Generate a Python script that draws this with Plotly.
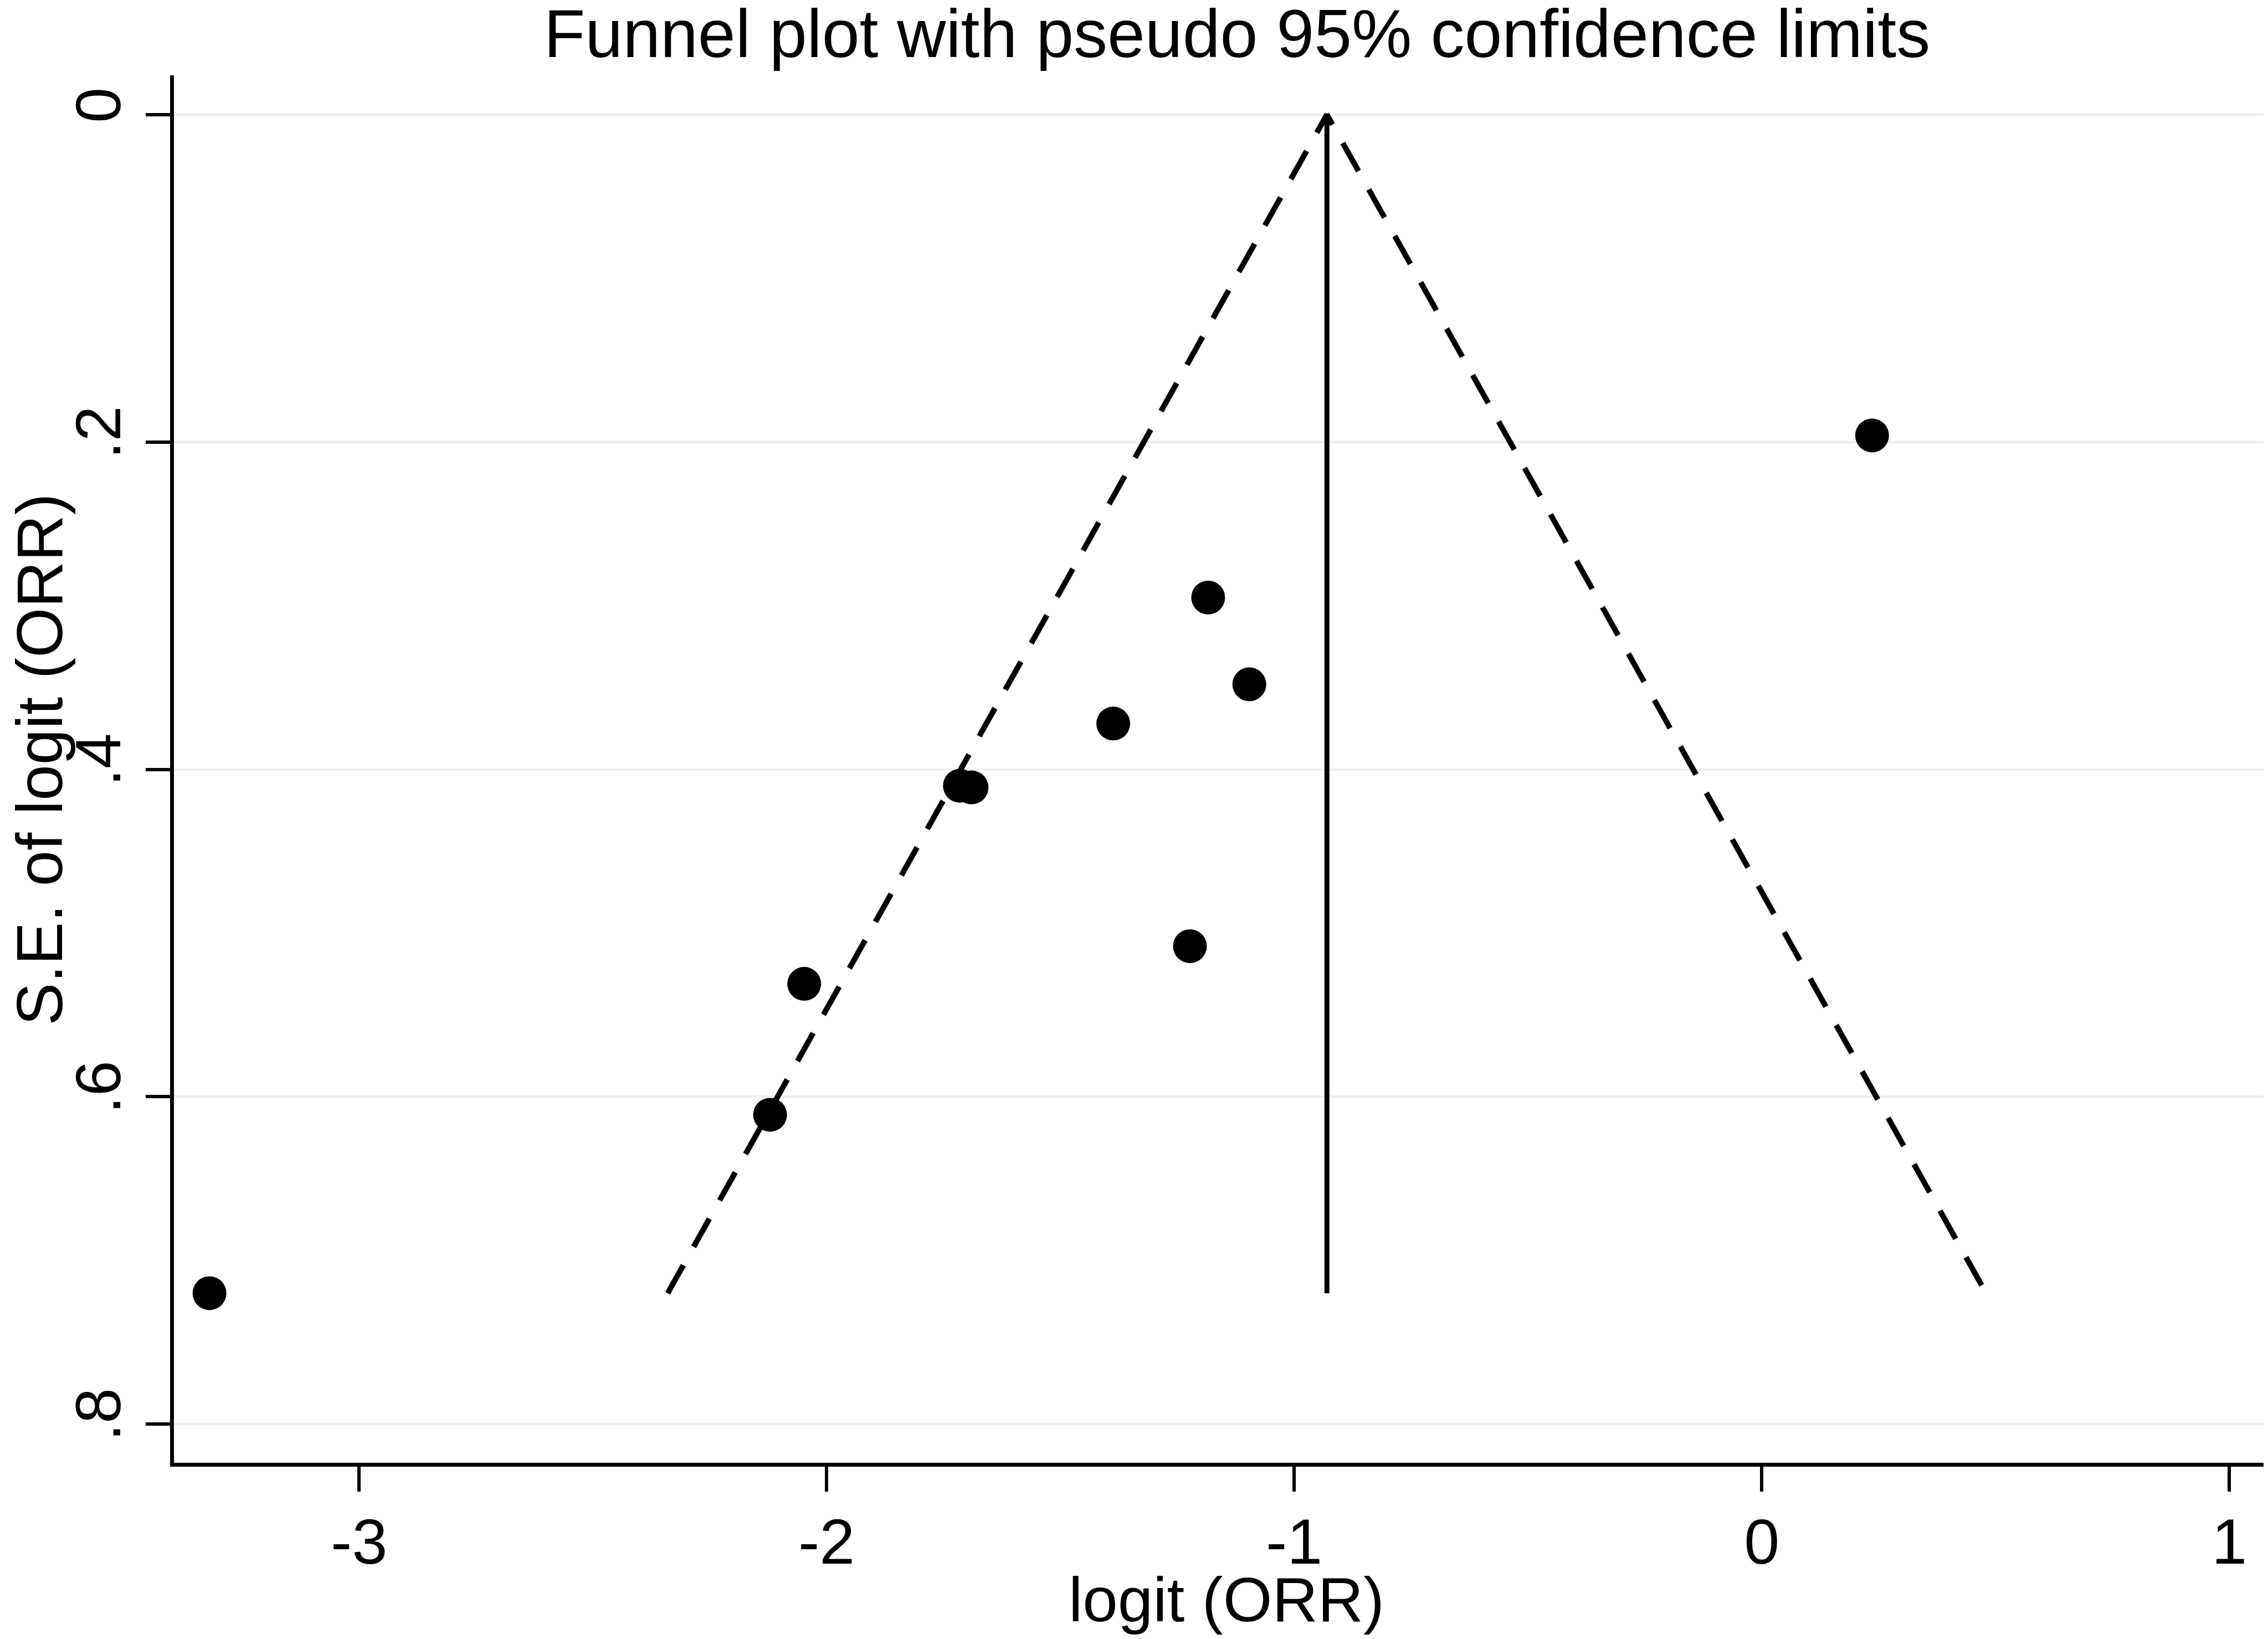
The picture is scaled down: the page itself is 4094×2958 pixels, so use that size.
import plotly.graph_objects as go

# Study estimates
logit_orr = [0.236, -1.184, -1.096, -1.387, -1.715, -1.690, -1.223, -2.048, -2.121, -3.320]
se_logit_orr = [0.196, 0.295, 0.348, 0.372, 0.410, 0.411, 0.508, 0.531, 0.611, 0.720]

# Pooled estimate and pseudo 95% limits
pooled = -0.930
funnel_se = [0.72, 0.0, 0.72]
funnel_x = [-2.34, -0.930, 0.48]

x_ticks = [-3, -2, -1, 0, 1]
x_ticklabels = ["-3", "-2", "-1", "0", "1"]
y_ticks = [0, 0.2, 0.4, 0.6, 0.8]
y_ticklabels = ["0", ".2", ".4", ".6", ".8"]

W, H = 4094, 2958
L, R, T, B = 306, 7, 128, 326
PW, PH = W - L - R, H - T - B
FONT = "Liberation Sans, Arial, sans-serif"

fig = go.Figure()

# dashed confidence limits
fig.add_trace(go.Scatter(
    x=funnel_x, y=funnel_se, mode="lines",
    line=dict(color="black", width=10, dash="58px,38px"),
    showlegend=False, hoverinfo="skip"
))

# pooled estimate line
fig.add_trace(go.Scatter(
    x=[pooled, pooled], y=[funnel_se[0], funnel_se[1]], mode="lines",
    line=dict(color="black", width=9),
    showlegend=False, hoverinfo="skip"
))

# studies
fig.add_trace(go.Scatter(
    x=logit_orr, y=se_logit_orr, mode="markers",
    marker=dict(color="black", size=61),
    showlegend=False
))

fig.update_layout(
    width=W, height=H,
    paper_bgcolor="white", plot_bgcolor="white",
    margin=dict(l=L, r=R, t=T, b=B),
    font=dict(family=FONT, size=115, color="black"),
    title=dict(
        text="Funnel plot with pseudo 95% confidence limits",
        x=2225 / W, xanchor="center", y=1 - 52 / H, yanchor="middle",
        font=dict(family=FONT, size=122, color="black")
    ),
    xaxis=dict(
        range=[-3.396, 1.084],
        tickvals=x_ticks, ticktext=x_ticklabels,
        showline=True, linecolor="black", linewidth=7,
        ticks="outside", ticklen=45, tickwidth=6, tickcolor="black",
        ticklabelstandoff=-8,
        showgrid=False, zeroline=False, automargin=False,
        tickfont=dict(size=115),
    ),
    yaxis=dict(
        range=[0.8236, -0.024],
        tickvals=y_ticks, ticktext=y_ticklabels, tickangle=-90,
        showline=True, linecolor="black", linewidth=7,
        ticks="outside", ticklen=44, tickwidth=6, tickcolor="black",
        showgrid=True, gridcolor="#f0f0f0", gridwidth=4,
        zeroline=False, automargin=False,
        tickfont=dict(size=115),
    ),
)

# axis titles placed as annotations for exact positioning
fig.add_annotation(
    text="logit (ORR)", xref="paper", yref="paper",
    x=(2206 - L) / PW, y=-(2878 - (H - B)) / PH,
    xanchor="center", yanchor="middle", showarrow=False,
    font=dict(family=FONT, size=114, color="black")
)
fig.add_annotation(
    text="S.E. of logit (ORR)", xref="paper", yref="paper",
    x=(64 - L) / PW, y=((H - B) - 1363) / PH, textangle=-90,
    xanchor="center", yanchor="middle", showarrow=False,
    font=dict(family=FONT, size=116, color="black")
)

fig.write_html("out.html")
